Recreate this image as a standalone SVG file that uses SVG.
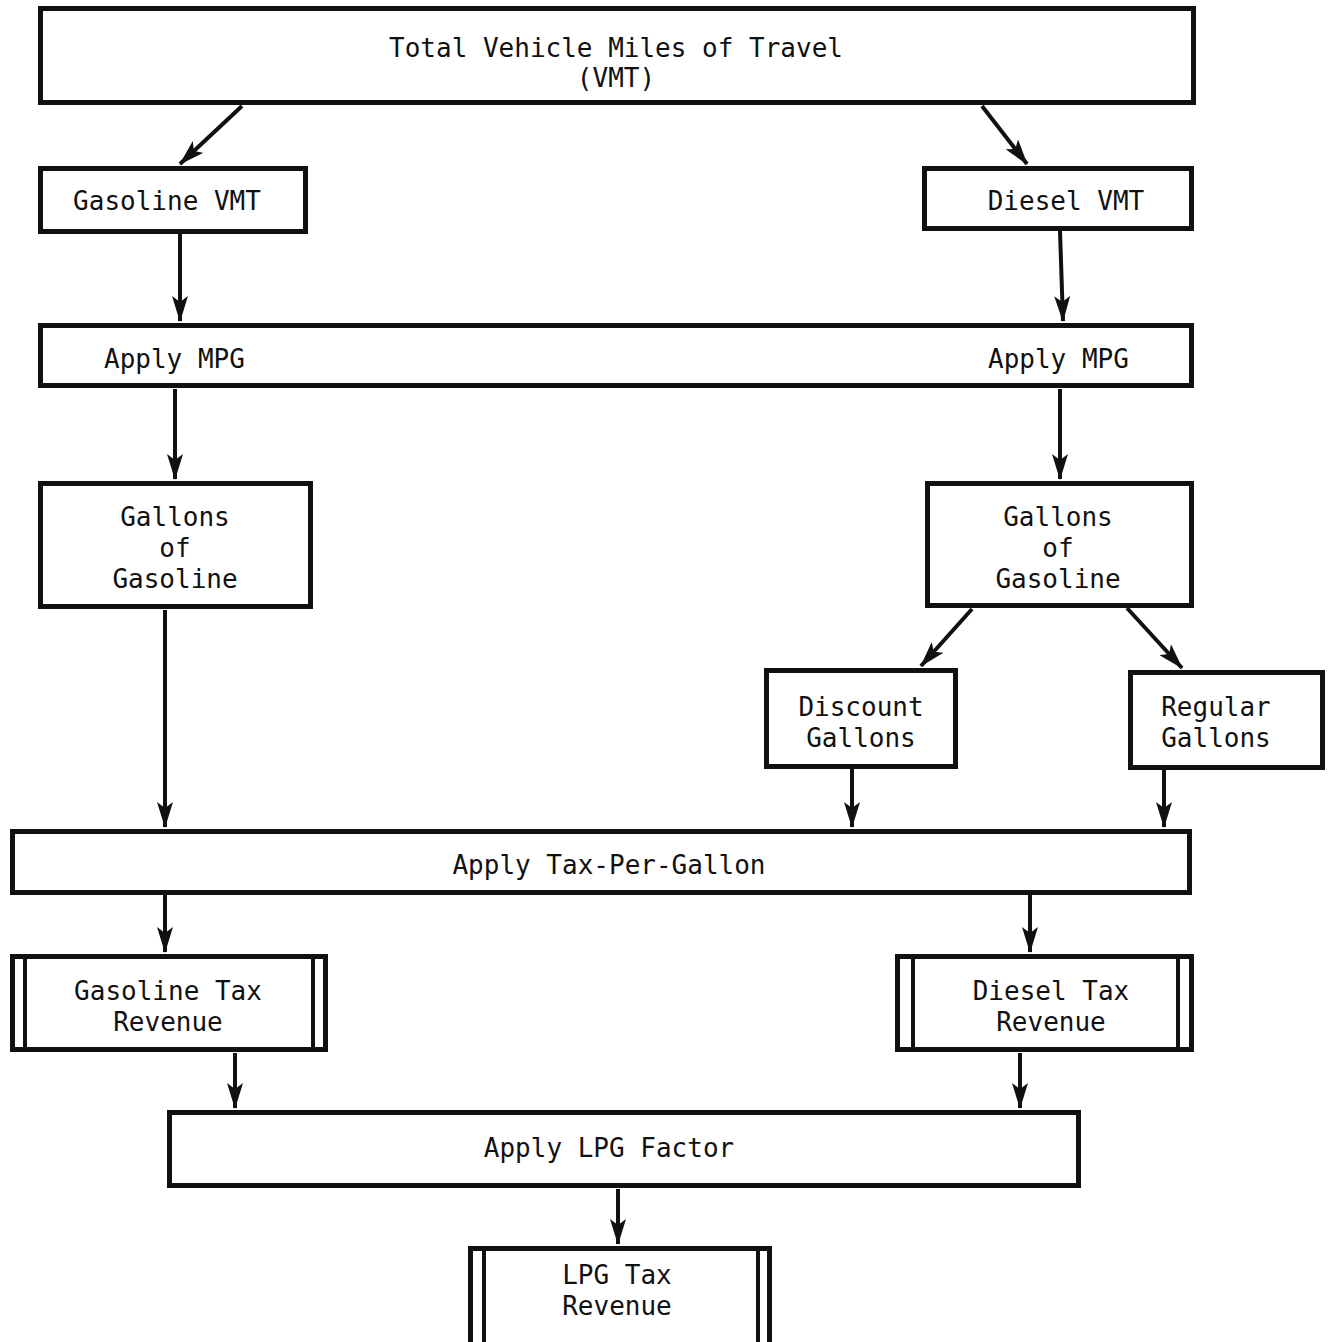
<svg xmlns="http://www.w3.org/2000/svg" width="1332" height="1342" viewBox="0 0 1332 1342">
  <style>
    .box { fill: #ffffff; stroke: #111111; stroke-width: 5; }
    .bar { stroke: #111111; stroke-width: 4; }
    .lbl { font-family: "DejaVu Sans Mono", "Liberation Mono", monospace; font-size: 26px; fill: #111111; text-anchor: middle; }
    .lbl-s { font-family: "DejaVu Sans Mono", "Liberation Mono", monospace; font-size: 26px; fill: #111111; text-anchor: start; }
    .edge { stroke: #111111; stroke-width: 4; fill: none; marker-end: url(#ah); }
  </style>
  <defs>
    <!-- barbed arrowhead shared by every connector -->
    <marker id="ah" viewBox="0 0 26 16" refX="25" refY="8" markerWidth="26" markerHeight="16" markerUnits="userSpaceOnUse" orient="auto">
      <path d="M0,0 L26,8 L0,16 L6,8 z" fill="#111111"/>
    </marker>
  </defs>
  <rect width="1332" height="1342" fill="#ffffff"/>

  <g id="connectors">
    <line class="edge" x1="242" y1="106" x2="180" y2="164"/>
    <line class="edge" x1="982" y1="106" x2="1027" y2="164"/>
    <line class="edge" x1="180" y1="234" x2="180" y2="321"/>
    <line class="edge" x1="1060" y1="231" x2="1063" y2="321"/>
    <line class="edge" x1="175" y1="389" x2="175" y2="479"/>
    <line class="edge" x1="1060" y1="389" x2="1060" y2="479"/>
    <line class="edge" x1="165" y1="610" x2="165" y2="827"/>
    <line class="edge" x1="972" y1="609" x2="921" y2="666"/>
    <line class="edge" x1="1127" y1="608" x2="1182" y2="668"/>
    <line class="edge" x1="852" y1="769" x2="852" y2="827"/>
    <line class="edge" x1="1164" y1="770" x2="1164" y2="827"/>
    <line class="edge" x1="165" y1="895" x2="165" y2="952"/>
    <line class="edge" x1="1030" y1="895" x2="1030" y2="952"/>
    <line class="edge" x1="235" y1="1053" x2="235" y2="1108"/>
    <line class="edge" x1="1020" y1="1053" x2="1020" y2="1108"/>
    <line class="edge" x1="618" y1="1189" x2="618" y2="1244"/>
  </g>

  <g id="total-vmt">
    <rect class="box" x="40.5" y="8.5" width="1153" height="94"/>
    <text class="lbl" x="616" y="57">Total Vehicle Miles of Travel</text>
    <text class="lbl" x="616" y="87">(VMT)</text>
  </g>

  <g id="gasoline-vmt">
    <rect class="box" x="40.5" y="168.5" width="265" height="63"/>
    <text class="lbl" x="167" y="210">Gasoline VMT</text>
  </g>

  <g id="diesel-vmt">
    <rect class="box" x="924.5" y="168.5" width="267" height="60"/>
    <text class="lbl" x="1066" y="210">Diesel VMT</text>
  </g>

  <g id="apply-mpg">
    <rect class="box" x="40.5" y="325.5" width="1151" height="60"/>
    <text class="lbl-s" x="104" y="368">Apply MPG</text>
    <text class="lbl-s" x="988" y="368">Apply MPG</text>
  </g>

  <g id="gallons-gasoline-left">
    <rect class="box" x="40.5" y="483.5" width="270" height="123"/>
    <text class="lbl" x="175" y="526">Gallons</text>
    <text class="lbl" x="175" y="557">of</text>
    <text class="lbl" x="175" y="588">Gasoline</text>
  </g>

  <g id="gallons-gasoline-right">
    <rect class="box" x="927.5" y="483.5" width="264" height="122"/>
    <text class="lbl" x="1058" y="526">Gallons</text>
    <text class="lbl" x="1058" y="557">of</text>
    <text class="lbl" x="1058" y="588">Gasoline</text>
  </g>

  <g id="discount-gallons">
    <rect class="box" x="766.5" y="670.5" width="189" height="96"/>
    <text class="lbl" x="861" y="716">Discount</text>
    <text class="lbl" x="861" y="747">Gallons</text>
  </g>

  <g id="regular-gallons">
    <rect class="box" x="1130.5" y="672.5" width="192" height="95"/>
    <text class="lbl" x="1216" y="716">Regular</text>
    <text class="lbl" x="1216" y="747">Gallons</text>
  </g>

  <g id="apply-tax">
    <rect class="box" x="12.5" y="831.5" width="1177" height="61"/>
    <text class="lbl" x="609" y="874">Apply Tax-Per-Gallon</text>
  </g>

  <g id="gasoline-tax-revenue">
    <rect class="box" x="12.5" y="956.5" width="313" height="93"/>
    <line class="bar" x1="25" y1="957" x2="25" y2="1049"/>
    <line class="bar" x1="313" y1="957" x2="313" y2="1049"/>
    <text class="lbl" x="168" y="1000">Gasoline Tax</text>
    <text class="lbl" x="168" y="1031">Revenue</text>
  </g>

  <g id="diesel-tax-revenue">
    <rect class="box" x="897.5" y="956.5" width="294" height="93"/>
    <line class="bar" x1="913" y1="957" x2="913" y2="1049"/>
    <line class="bar" x1="1178" y1="957" x2="1178" y2="1049"/>
    <text class="lbl" x="1051" y="1000">Diesel Tax</text>
    <text class="lbl" x="1051" y="1031">Revenue</text>
  </g>

  <g id="apply-lpg">
    <rect class="box" x="169.5" y="1112.5" width="909" height="73"/>
    <text class="lbl" x="609" y="1157">Apply LPG Factor</text>
  </g>

  <g id="lpg-tax-revenue">
    <rect class="box" x="470.5" y="1248.5" width="299" height="100"/>
    <line class="bar" x1="484" y1="1249" x2="484" y2="1342"/>
    <line class="bar" x1="758" y1="1249" x2="758" y2="1342"/>
    <text class="lbl" x="617" y="1284">LPG Tax</text>
    <text class="lbl" x="617" y="1315">Revenue</text>
  </g>
</svg>
